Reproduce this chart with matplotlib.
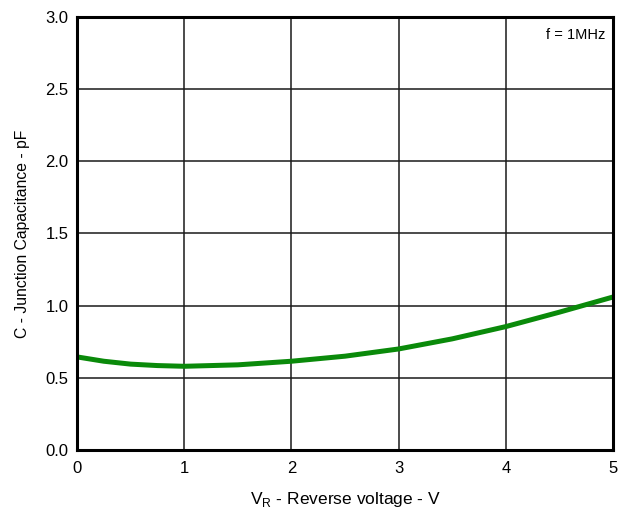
import numpy as np
import matplotlib.pyplot as plt

# junction capacitance vs reverse voltage
vr = [0, 0.25, 0.5, 0.75, 1.0, 1.5, 2.0, 2.5, 3.0, 3.5, 4.0, 4.5, 5.0]
cap = [0.645, 0.615, 0.595, 0.585, 0.58, 0.59, 0.615, 0.65, 0.70, 0.77, 0.855, 0.955, 1.06]

xticks = [0, 1, 2, 3, 4, 5]
yticks = [0.0, 0.5, 1.0, 1.5, 2.0, 2.5, 3.0]

plt.rcParams['font.family'] = ['Liberation Sans', 'DejaVu Sans']

fig = plt.figure(figsize=(6.24, 5.13), dpi=100)
ax = fig.add_axes([0.1234, 0.1228, 0.8590, 0.8441])

ax.plot(vr, cap, color='#0a8a0a', lw=3.6, solid_capstyle='round', zorder=3)

ax.set_xlim(0, 5)
ax.set_ylim(0, 3)
ax.set_xticks(xticks)
ax.set_yticks(yticks)
ax.set_yticklabels(['%.1f' % v for v in yticks])
ax.tick_params(length=0, labelsize=12)
ax.tick_params(axis='x', pad=8)
ax.tick_params(axis='y', pad=6)
ax.grid(True, color='#1a1a1a', lw=1.1)
for s in ax.spines.values():
    s.set_linewidth(2.2)
    s.set_zorder(4)

ax.set_xlabel(r'V$_\mathregular{R}$ - Reverse voltage - V', fontsize=12.5, labelpad=10)
ax.set_ylabel('C - Junction Capacitance - pF', fontsize=11.3, labelpad=11)
ax.text(0.985, 0.975, 'f = 1MHz', transform=ax.transAxes, ha='right', va='top', fontsize=10.5)

fig.savefig('out.png', dpi=100)
